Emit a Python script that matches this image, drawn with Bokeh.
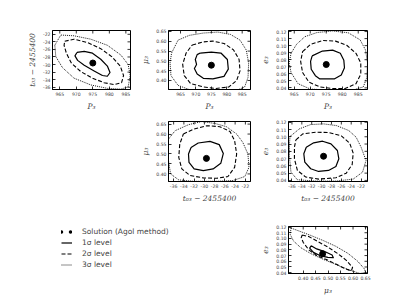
import math
from bokeh.plotting import figure
from bokeh.layouts import column, row, Spacer
from bokeh.models import (FixedTicker, PrintfTickFormatter, Legend,
                          LegendItem, Range1d)
from bokeh.embed import file_html
from bokeh.resources import INLINE

# ---------------- data ----------------
P_ticks = [965, 970, 975, 980, 985]
t_ticks = [-36, -34, -32, -30, -28, -26, -24, -22]
mu_ticks = [0.40, 0.45, 0.50, 0.55, 0.60, 0.65]
e_ticks = [0.04, 0.05, 0.06, 0.07, 0.08, 0.09, 0.10, 0.11, 0.12]

sol_P = [975.0]
sol_t = [-29.6]
sol_mu = [0.478]
sol_e = [0.0732]

pt1_P = [970.2, 972.4, 974.9, 977.4, 979.4, 980.2, 979.4, 977.9, 975.4, 972.4, 970.4, 969.6]
pt1_t = [-26.8, -26.5, -27.0, -28.6, -30.4, -32.1, -33.1, -32.9, -31.7, -30.2, -28.9, -27.7]
pt2_P = [966.5, 969.3, 973.4, 977.4, 980.7, 983.3, 984.3, 983.7, 981.5, 978.4, 974.9, 971.4, 968.5, 967.0, 966.3]
pt2_t = [-23.85, -23.3, -24.2, -25.8, -27.9, -30.4, -32.9, -34.8, -35.3, -34.8, -33.6, -31.9, -29.6, -27.0, -24.9]
pt3_P = [963.5, 965.3, 969.3, 974.4, 979.4, 983.5, 985.7, 986.3, 985.7, 983.5, 979.4, 974.4, 969.3, 965.8, 963.8]
pt3_t = [-24.9, -22.2, -22.4, -23.3, -24.9, -27.5, -30.0, -32.9, -35.9, -36.5, -36.3, -35.4, -33.6, -30.8, -27.9]

pm1_P = [971.4, 975.0, 978.1, 980.2, 980.5, 979.1, 975.5, 972.4, 970.4, 969.5, 970.2, 969.8, 970.4]
pm1_m = [0.540, 0.545, 0.540, 0.507, 0.458, 0.421, 0.408, 0.411, 0.433, 0.461, 0.482, 0.507, 0.532]
pm2_P = [968.8, 972.4, 975.5, 979.1, 982.2, 984.0, 984.3, 983.2, 980.7, 976.5, 972.4, 968.3, 966.2, 965.7, 966.8]
pm2_m = [0.581, 0.597, 0.601, 0.589, 0.556, 0.507, 0.449, 0.400, 0.367, 0.359, 0.367, 0.384, 0.425, 0.482, 0.540]
pm3_P = [962.1, 964.2, 967.8, 972.4, 977.1, 981.2, 984.3, 986.3, 987.1, 986.9, 985.8, 982.7, 975.5, 968.3, 964.2, 961.9, 961.6]
pm3_m = [0.540, 0.606, 0.630, 0.642, 0.647, 0.635, 0.606, 0.556, 0.490, 0.416, 0.367, 0.346, 0.346, 0.351, 0.375, 0.425, 0.490]

pe1_P = [970.6, 973.8, 977.0, 979.4, 980.5, 980.7, 979.7, 977.5, 973.0, 971.6, 970.3, 970.1]
pe1_e = [0.0855, 0.0923, 0.0936, 0.0891, 0.0791, 0.0686, 0.0582, 0.0527, 0.0527, 0.0573, 0.0664, 0.0777]
pe2_P = [967.6, 970.1, 974.0, 977.9, 981.4, 984.3, 985.8, 985.8, 984.3, 980.9, 977.0, 973.0, 969.6, 967.6, 967.0]
pe2_e = [0.0914, 0.1018, 0.1073, 0.1064, 0.1005, 0.0891, 0.0755, 0.0595, 0.0459, 0.0391, 0.0391, 0.0414, 0.0482, 0.0618, 0.0777]
pe3_P = [964.0, 965.7, 968.3, 972.1, 977.0, 981.9, 985.6, 987.3, 987.9, 987.7, 986.6, 983.3, 977.0, 970.1, 966.2, 964.0, 963.4]
pe3_e = [0.0891, 0.1018, 0.1127, 0.1186, 0.1209, 0.1182, 0.1082, 0.0936, 0.0755, 0.0550, 0.0414, 0.0368, 0.0368, 0.0382, 0.0459, 0.0618, 0.0755]

tm1_t = [-32.6, -31.2, -28.9, -27.1, -26.3, -26.8, -28.3, -30.2, -32.0, -33.0, -33.1]
tm1_m = [0.533, 0.555, 0.563, 0.547, 0.503, 0.453, 0.425, 0.417, 0.425, 0.458, 0.500]
tm2_t = [-34.1, -32.1, -29.5, -27.0, -25.0, -24.1, -23.7, -24.1, -25.4, -27.6, -30.2, -32.8, -34.4, -35.0, -34.8]
tm2_m = [0.600, 0.625, 0.642, 0.637, 0.613, 0.567, 0.500, 0.433, 0.387, 0.378, 0.380, 0.392, 0.425, 0.483, 0.550]
tm3_t = [-37.0, -35.7, -33.1, -30.5, -27.9, -25.7, -23.7, -22.5, -21.5, -21.3, -22.1, -24.4, -27.6, -32.1, -35.0, -36.6, -37.0, -37.0]
tm3_m = [0.575, 0.617, 0.647, 0.663, 0.653, 0.637, 0.600, 0.558, 0.500, 0.433, 0.387, 0.367, 0.363, 0.363, 0.370, 0.400, 0.467, 0.533]

te1_t = [-33.1, -31.6, -29.8, -28.1, -26.8, -26.5, -27.1, -28.6, -30.6, -32.2, -33.4, -33.6]
te1_e = [0.0857, 0.0917, 0.0939, 0.0903, 0.0811, 0.0697, 0.0592, 0.0537, 0.0523, 0.0560, 0.0651, 0.0766]
te2_t = [-35.2, -33.8, -31.2, -28.6, -26.0, -24.3, -23.6, -23.8, -25.0, -27.1, -30.6, -33.2, -34.9, -35.5, -35.5]
te2_e = [0.0958, 0.1040, 0.1063, 0.1058, 0.1013, 0.0912, 0.0775, 0.0619, 0.0500, 0.0436, 0.0418, 0.0446, 0.0537, 0.0697, 0.0857]
te3_t = [-36.4, -34.5, -32.2, -29.6, -27.0, -24.5, -23.0, -22.0, -21.0, -21.7, -23.6, -27.0, -31.2, -34.9, -36.2, -36.5, -36.5]
te3_e = [0.1003, 0.1109, 0.1168, 0.1177, 0.1154, 0.1086, 0.0994, 0.0857, 0.0674, 0.0514, 0.0418, 0.0391, 0.0391, 0.0409, 0.0514, 0.0720, 0.0903]

me1_m = [0.432, 0.454, 0.486, 0.516, 0.521, 0.499, 0.467, 0.441, 0.426]
me1_e = [0.0872, 0.0816, 0.0770, 0.0710, 0.0663, 0.0668, 0.0700, 0.0756, 0.0830]
me2_m = [0.396, 0.422, 0.461, 0.499, 0.538, 0.573, 0.598, 0.593, 0.568, 0.531, 0.493, 0.454, 0.422, 0.400, 0.392]
me2_e = [0.1061, 0.1033, 0.0941, 0.0848, 0.0737, 0.0617, 0.0492, 0.0432, 0.0469, 0.0552, 0.0631, 0.0700, 0.0802, 0.0932, 0.1015]
me3_m = [0.351, 0.377, 0.428, 0.480, 0.531, 0.580, 0.619, 0.645, 0.650, 0.628, 0.586, 0.534, 0.482, 0.431, 0.390, 0.361, 0.348]
me3_e = [0.1182, 0.1140, 0.1057, 0.0964, 0.0862, 0.0737, 0.0599, 0.0469, 0.0404, 0.0386, 0.0446, 0.0539, 0.0631, 0.0733, 0.0839, 0.0955, 0.1070]

legend_labels = ["Solution (Agol method)", "1σ level", "2σ level", "3σ level"]

P_label = "P₃"
t_label = "t₀₃ − 2455400"
mu_label = "μ₃"
e_label = "e₃"

# ---------------- styling ----------------
TICK_FONT = "DejaVu Sans"
LABEL_FONT = "DejaVu Serif"
STYLES = [
    dict(line_width=1.2, line_dash="solid"),
    dict(line_width=1.1, line_dash="4 2"),
    dict(line_width=0.9, line_dash="1 1"),
]


def closed(v):
    return list(v) + [v[0]]


def style_axis(ax, ticks, fmt, label):
    ax.ticker = FixedTicker(ticks=ticks)
    ax.formatter = PrintfTickFormatter(format=fmt)
    ax.axis_label = label
    ax.axis_label_text_font = LABEL_FONT
    ax.axis_label_text_font_style = "italic"
    ax.axis_label_text_font_size = "7.5px"
    ax.axis_label_standoff = 3
    ax.major_label_text_font = TICK_FONT
    ax.major_label_text_font_size = "4.6px"
    ax.major_label_standoff = 2
    ax.major_tick_in = 3
    ax.major_tick_out = 0
    ax.minor_tick_in = 0
    ax.minor_tick_out = 0
    ax.axis_line_color = "black"
    ax.major_tick_line_color = "black"
    ax.major_tick_line_width = 0.8


def panel(w, h, bl, br, bt, bb, xr, yr, xt, yt, xf, yf, xl, yl, contours, sx, sy):
    p = figure(width=w, height=h, x_range=Range1d(*xr), y_range=Range1d(*yr),
               output_backend="svg", toolbar_location=None,
               min_border_left=bl, min_border_right=br,
               min_border_top=bt, min_border_bottom=bb)
    p.grid.visible = False
    p.outline_line_color = "black"
    p.outline_line_width = 1
    style_axis(p.xaxis[0], xt, xf, xl)
    style_axis(p.yaxis[0], yt, yf, yl)
    # inward ticks on the top and right edges of the frame
    p.ray(x=xt, y=[yr[1]] * len(xt), length=3, length_units="screen",
          angle=-math.pi / 2, line_color="black", line_width=0.8)
    p.ray(x=[xr[1]] * len(yt), y=yt, length=3, length_units="screen",
          angle=math.pi, line_color="black", line_width=0.8)
    for (cx, cy), st in zip(contours, STYLES):
        p.line(closed(cx), closed(cy), line_color="black", line_join="round", **st)
    p.scatter(sx, sy, size=6, color="black")
    return p


H1, H2 = 113, 92
W1, W2, W3 = 138, 120, 117

p1 = panel(W1, H1, 52, 8, 30, 22, (962.8, 986.4), (-36.6, -21.0), P_ticks, t_ticks, "%d", "%d",
           P_label, t_label, [(pt1_P, pt1_t), (pt2_P, pt2_t), (pt3_P, pt3_t)], sol_P, sol_t)
p2 = panel(W2, H1, 25, 8, 30, 22, (961.1, 987.7), (0.354, 0.655), P_ticks, mu_ticks, "%d", "%.2f",
           P_label, mu_label, [(pm1_P, pm1_m), (pm2_P, pm2_m), (pm3_P, pm3_m)], sol_P, sol_mu)
p3 = panel(W3, H1, 27, 8, 30, 22, (963.2, 987.9), (0.0377, 0.1215), P_ticks, e_ticks, "%d", "%.2f",
           P_label, e_label, [(pe1_P, pe1_e), (pe2_P, pe2_e), (pe3_P, pe3_e)], sol_P, sol_e)
p4 = panel(W2, H2, 25, 8, 8, 24, (-37.0, -21.0), (0.362, 0.663), t_ticks, mu_ticks, "%d", "%.2f",
           t_label, mu_label, [(tm1_t, tm1_m), (tm2_t, tm2_m), (tm3_t, tm3_m)], sol_t, sol_mu)
p5 = panel(W3, H2, 27, 8, 8, 24, (-36.7, -20.7), (0.0385, 0.121), t_ticks, e_ticks, "%d", "%.2f",
           t_label, e_label, [(te1_t, te1_e), (te2_t, te2_e), (te3_t, te3_e)], sol_t, sol_e)
p6 = panel(W3, H2, 27, 8, 8, 24, (0.341, 0.658), (0.0386, 0.1209), mu_ticks, e_ticks, "%.2f", "%.2f",
           mu_label, e_label, [(me1_m, me1_e), (me2_m, me2_e), (me3_m, me3_e)], sol_mu, sol_e)

# legend-only figure: its renderers hold one off-range point so only the legend glyphs show
lg = figure(width=W1 + W2, height=H2, x_range=(0, 1), y_range=(0, 1),
            output_backend="svg", toolbar_location=None,
            x_axis_location=None, y_axis_location=None,
            min_border_left=61, min_border_right=0, min_border_top=21, min_border_bottom=0)
lg.grid.visible = False
lg.outline_line_color = None
hx, hy = [-10.0], [-10.0]
r0 = lg.line(hx, hy, line_color="black", line_width=3.5, line_dash="0 9", line_cap="round")
r1 = lg.line(hx, hy, line_color="black", **STYLES[0])
r2 = lg.line(hx, hy, line_color="black", **STYLES[1])
r3 = lg.line(hx, hy, line_color="black", **STYLES[2])
legend = Legend(items=[LegendItem(label=lab, renderers=[r]) for lab, r in zip(legend_labels, [r0, r1, r2, r3])],
                location="top_left", padding=0, margin=0, spacing=0,
                glyph_width=11, glyph_height=11, label_height=11, label_standoff=10,
                label_text_font=TICK_FONT, label_text_font_size="7.5px",
                border_line_alpha=0, background_fill_alpha=0)
lg.add_layout(legend)

layout = column(
    row(p1, p2, p3),
    row(Spacer(width=W1, height=H2), p4, p5),
    row(lg, p6),
)

open("out.html", "w").write(file_html(layout, INLINE))
